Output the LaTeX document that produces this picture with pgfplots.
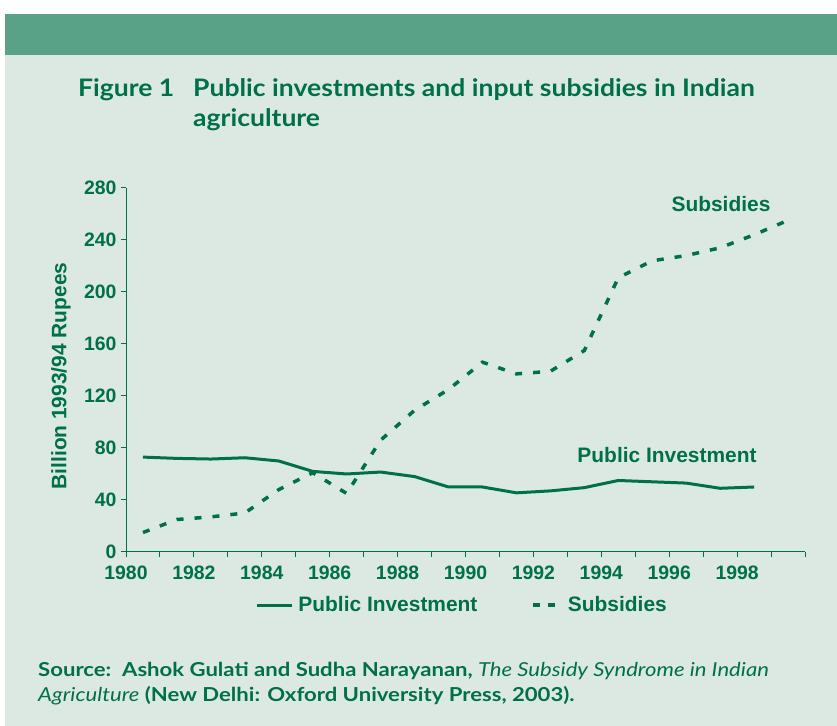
\documentclass[border=0pt]{standalone}
\usepackage{pgfplots}
\pgfplotsset{compat=1.18}
\usepackage{fontspec}
\setmainfont{Liberation Sans}
\newfontfamily\gill[FakeStretch=1.1]{Lato}
\newfontfamily\gillsrc[FakeStretch=1.15]{Lato}
\definecolor{bg}{HTML}{DCE9E3}
\definecolor{band}{HTML}{5AA287}
\definecolor{dg}{HTML}{00704A}

\pgfplotstableread{
year val
1980.5 73
1981.5 72
1982.5 71.5
1983.5 72.5
1984.5 70
1985.5 62
1986.5 60
1987.5 61.5
1988.5 58
1989.5 50
1990.5 50
1991.5 45.5
1992.5 47
1993.5 49.5
1994.5 55
1995.5 54
1996.5 53
1997.5 49
1998.5 50
}\investment

\pgfplotstableread{
year val
1980.5 15
1981.5 25
1982.5 27
1983.5 30
1984.5 48
1985.5 61
1986.5 45
1987.5 86
1988.5 109
1989.5 125
1990.5 146
1991.5 137
1992.5 139
1993.5 155
1994.5 211
1995.5 224
1996.5 228
1997.5 234
1998.5 244
1999.4 254
}\subsidies

\begin{document}
\begin{tikzpicture}[x=1bp,y=1bp]
\fill[white] (0,0) rectangle (837,726);
\fill[bg] (5,0) rectangle (837,712);
\fill[band] (5,671) rectangle (837,712);
\begin{scope}[every node/.style={inner sep=0, text=dg, font=\gill\bfseries\fontsize{24.2}{28}\selectfont}]
\node[anchor=base west] at (78,629) {Figure 1};
\node[anchor=base west] at (193,629) {Public investments and input subsidies in Indian};
\node[anchor=base west] at (193,599) {agriculture};
\end{scope}
\begin{scope}[every node/.style={inner sep=0, text=dg, font=\gillsrc\bfseries\fontsize{19.3}{22}\selectfont}]
\node[anchor=base west] at (38,49) {Source:\ \ Ashok Gulati and Sudha Narayanan, {\mdseries\itshape The Subsidy Syndrome in Indian}};
\node[anchor=base west] at (38,24) {{\mdseries\itshape Agriculture} (New Delhi: Oxford University Press, 2003).};
\end{scope}
\begin{axis}[
  at={(126bp,174bp)}, anchor=south west,
  scale only axis, width=679bp, height=364bp,
  xmin=1980, xmax=2000, ymin=0, ymax=280,
  axis x line*=bottom, axis y line*=left,
  axis line style={dg, line width=1bp},
  xtick={1980,1982,...,1998},
  minor xtick={1981,1983,...,1999,2000},
  ytick={0,40,...,280},
  tick align=outside,
  major tick length=5bp, minor tick length=5bp,
  tick style={dg, line width=1bp},
  /pgf/number format/1000 sep={},
  /pgf/number format/assume math mode=true,
  tick label style={text=dg, font=\bfseries\fontsize{19.5}{22}\selectfont},
  xticklabel style={inner ysep=1bp, yshift=-7.5bp},
  yticklabel style={inner ysep=1bp, xshift=-1bp},
  clip=false,
  legend columns=2,
  legend style={draw=none, fill=none, at={(0.495,-0.146)}, anchor=center,
    font=\bfseries\fontsize{21}{24}\selectfont, text=dg,
    /tikz/every even column/.append style={column sep=52bp}},
]
\addplot[dg, line width=3bp, line join=round,
  legend image code/.code={\draw[dg, line width=3bp] (0bp,0bp)--(35bp,0bp); \path (38bp,0bp);}]
  table[x=year, y=val] {\investment};
\addlegendentry{Public Investment}
\addplot[dg, line width=3.5bp, dash pattern=on 7bp off 11bp,
  legend image code/.code={\draw[dg, line width=3.5bp] (0bp,0bp)--(7bp,0bp) (15bp,0bp)--(22bp,0bp); \path (31bp,0bp);}]
  table[x=year, y=val] {\subsidies};
\addlegendentry{Subsidies}
\end{axis}
\begin{scope}[every node/.style={text=dg, font=\bfseries\fontsize{21}{24}\selectfont}]
\node[rotate=90] at (61,350) {Billion 1993/94 Rupees};
\node at (721,522) {Subsidies};
\node at (667,271) {Public Investment};
\end{scope}
\end{tikzpicture}
\end{document}
